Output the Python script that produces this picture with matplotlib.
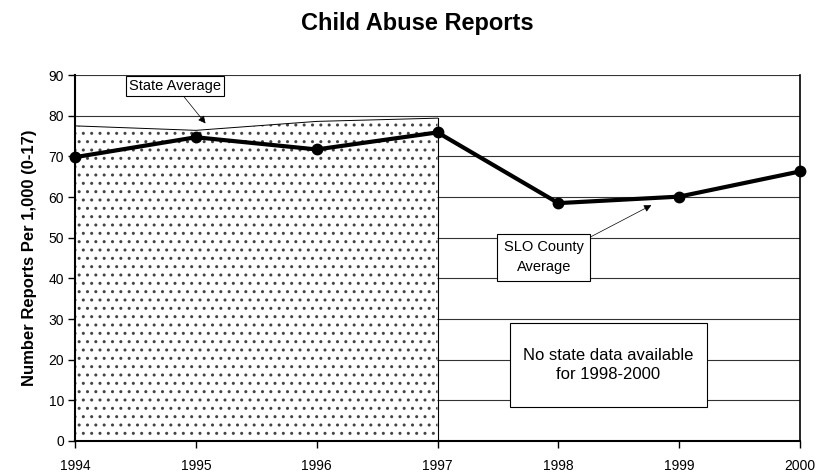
import numpy as np
import matplotlib.pyplot as plt
from matplotlib.patches import Rectangle

plt.rcParams['font.family'] = ['Liberation Sans', 'DejaVu Sans']
plt.rcParams['hatch.linewidth'] = 1.0

years = [1994, 1995, 1996, 1997, 1998, 1999, 2000]
county = [69.8, 74.7, 71.7, 75.9, 58.5, 60.1, 66.3]
state_years = [1994, 1995, 1996, 1997]
state = [77.5, 76.4, 78.6, 79.4]
y_ticks = [0, 10, 20, 30, 40, 50, 60, 70, 80, 90]

fig = plt.figure(figsize=(8.31, 4.72), dpi=100)
ax = fig.add_axes([0.0903, 0.0657, 0.8724, 0.7753])

# horizontal gridlines behind the state area
for v in y_ticks[1:]:
    ax.axhline(v, color='#333333', linewidth=0.8, zorder=1)

# state average: dotted area
ax.fill_between(state_years, 0, state, facecolor='white', edgecolor='#444444',
                hatch='..', linewidth=0, zorder=2)
ax.plot(state_years, state, color='black', linewidth=0.7, zorder=3)
ax.plot([1997, 1997], [0, state[-1]], color='black', linewidth=0.8, zorder=3)

# county line
ax.plot(years, county, color='black', linewidth=3, marker='o', markersize=7.5, zorder=5,
        clip_on=False)

ax.set_xlim(1994, 2000)
ax.set_ylim(0, 90)
ax.set_xticks(years)
ax.set_yticks(y_ticks)
ax.tick_params(labelsize=10, direction='out', length=5, width=1)
ax.tick_params(axis='x', pad=8)
ax.tick_params(axis='y', pad=3)
ax.spines['top'].set_visible(False)
ax.spines['left'].set_linewidth(1.5)
ax.spines['bottom'].set_linewidth(1.5)
ax.spines['right'].set_linewidth(1.2)

ax.set_ylabel('Number Reports Per 1,000 (0-17)', fontsize=12, fontweight='bold', labelpad=8)
fig.suptitle('Child Abuse Reports', fontsize=17, fontweight='bold', x=0.502, y=0.975)

ax.annotate('State Average', xy=(1995.08, 78.1), xytext=(1994.83, 87.3),
            fontsize=10.5, ha='center', va='center', zorder=6,
            bbox=dict(boxstyle='square,pad=0.2', facecolor='white', edgecolor='black',
                      linewidth=0.8),
            arrowprops=dict(arrowstyle='-|>', color='black', linewidth=0.5,
                            mutation_scale=11, shrinkA=0, shrinkB=0))

ax.annotate('SLO County\nAverage', xy=(1998.77, 58.0), xytext=(1997.88, 45.2),
            fontsize=10.5, ha='center', va='center', zorder=6, linespacing=1.5,
            bbox=dict(boxstyle='square,pad=0.45', facecolor='white', edgecolor='black',
                      linewidth=0.8),
            arrowprops=dict(arrowstyle='-|>', color='black', linewidth=0.5,
                            mutation_scale=11, shrinkA=0, shrinkB=0, relpos=(1, 1)))

# note box for the missing state years
ax.add_patch(Rectangle((1997.6, 8.4), 1.63, 20.6, facecolor='white', edgecolor='black',
                       linewidth=0.8, zorder=6))
ax.text(1998.415, 18.7, 'No state data available\nfor 1998-2000', fontsize=12,
        ha='center', va='center', zorder=7, linespacing=1.3)

fig.savefig('out.png', dpi=100)
